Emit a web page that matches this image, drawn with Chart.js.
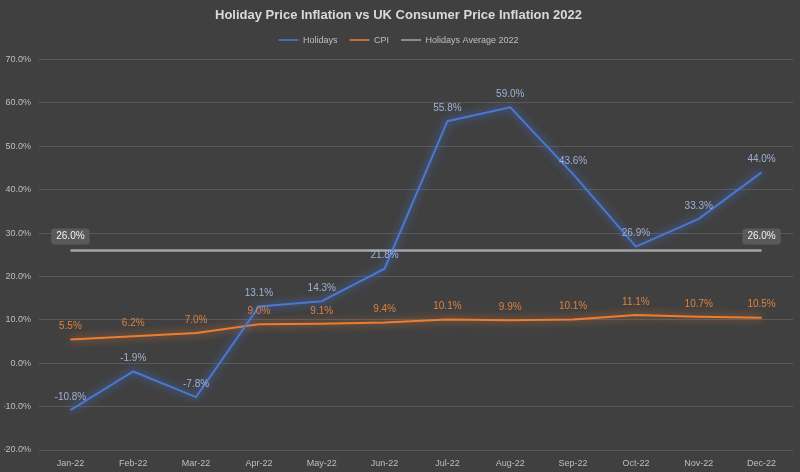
<!DOCTYPE html>
<html>
<head>
<meta charset="utf-8">
<script src="https://cdn.jsdelivr.net/npm/chart.js"></script>
<style>
  html, body { margin: 0; padding: 0; background: #404040; }
  #wrap { width: 800px; height: 472px; }
</style>
</head>
<body>
<div id="wrap"><canvas id="priceChart" width="800" height="472"></canvas></div>
<script>
const months = ['Jan-22', 'Feb-22', 'Mar-22', 'Apr-22', 'May-22', 'Jun-22', 'Jul-22', 'Aug-22', 'Sep-22', 'Oct-22', 'Nov-22', 'Dec-22'];
const holidays = [-10.8, -1.9, -7.8, 13.1, 14.3, 21.8, 55.8, 59.0, 43.6, 26.9, 33.3, 44.0];
const cpi = [5.5, 6.2, 7.0, 9.0, 9.1, 9.4, 10.1, 9.9, 10.1, 11.1, 10.7, 10.5];
const holidaysAverage = [26.0, 26.0, 26.0, 26.0, 26.0, 26.0, 26.0, 26.0, 26.0, 26.0, 26.0, 26.0];

const fontFamily = "'Liberation Sans', Arial, sans-serif";

// a bit more room under the legend
const legendGap = {
  id: 'legendGap',
  beforeInit(chart) {
    const origFit = chart.legend.fit;
    chart.legend.fit = function () {
      origFit.bind(chart.legend)();
      this.height += 5;
    };
  }
};

// glow round the lines
const glowPlugin = {
  id: 'glow',
  beforeDatasetDraw(chart, args) {
    const ds = chart.data.datasets[args.index];
    const ctx = chart.ctx;
    ctx.save();
    if (ds.glow) {
      ctx.shadowColor = ds.glow;
      ctx.shadowBlur = 9;
    }
  },
  afterDatasetDraw(chart) {
    chart.ctx.restore();
  }
};

// value labels
const labelPlugin = {
  id: 'valueLabels',
  afterDatasetsDraw(chart) {
    const ctx = chart.ctx;
    ctx.save();
    ctx.font = '10px ' + fontFamily;
    ctx.textAlign = 'center';
    ctx.textBaseline = 'middle';
    chart.data.datasets.forEach((ds, i) => {
      const meta = chart.getDatasetMeta(i);
      meta.data.forEach((pt, j) => {
        const text = ds.data[j].toFixed(1) + '%';
        if (ds.boxLabels) {
          if (j !== 0 && j !== ds.data.length - 1) return;
          const w = ctx.measureText(text).width + 10;
          const h = 16;
          const y = pt.y - 14;
          ctx.fillStyle = '#5a5a5a';
          ctx.beginPath();
          ctx.roundRect(pt.x - w / 2, y - h / 2, w, h, 3);
          ctx.fill();
          ctx.fillStyle = '#f2f2f2';
          ctx.fillText(text, pt.x, y);
        } else {
          ctx.fillStyle = ds.labelColor;
          ctx.fillText(text, pt.x, pt.y - 13);
        }
      });
    });
    ctx.restore();
  }
};

new Chart(document.getElementById('priceChart'), {
  type: 'line',
  data: {
    labels: months,
    datasets: [{
      label: 'Holidays',
      data: holidays,
      borderColor: '#4a78d0',
      backgroundColor: '#4a78d0',
      glow: 'rgba(70, 120, 230, 1)',
      labelColor: '#9fb1d6',
      borderWidth: 2
    }, {
      label: 'CPI',
      data: cpi,
      borderColor: '#ed7d31',
      backgroundColor: '#ed7d31',
      glow: 'rgba(237, 125, 49, 0.9)',
      labelColor: '#dc823e',
      borderWidth: 2
    }, {
      label: 'Holidays Average 2022',
      data: holidaysAverage,
      borderColor: '#a5a5a5',
      backgroundColor: '#a5a5a5',
      boxLabels: true,
      borderWidth: 2.5
    }]
  },
  options: {
    responsive: false,
    animation: false,
    elements: {
      point: { radius: 0, hoverRadius: 0 },
      line: { tension: 0 }
    },
    layout: { padding: { left: 4, right: 7, top: 6, bottom: 2 } },
    plugins: {
      title: {
        display: true,
        text: 'Holiday Price Inflation vs UK Consumer Price Inflation 2022',
        color: '#d9d9d9',
        font: { family: fontFamily, size: 13, weight: 'bold' },
        padding: { top: 2, bottom: 0 }
      },
      legend: {
        labels: {
          color: '#bfbfbf',
          font: { family: fontFamily, size: 9 },
          boxWidth: 20,
          boxHeight: 0,
          padding: 12,
          generateLabels(chart) {
            return chart.data.datasets.map((ds, i) => ({
              text: ds.label,
              fillStyle: ds.borderColor,
              strokeStyle: ds.borderColor,
              lineWidth: 1.5,
              fontColor: '#bfbfbf',
              datasetIndex: i
            }));
          }
        }
      },
      tooltip: { enabled: false }
    },
    scales: {
      x: {
        offset: true,
        grid: { display: false, drawTicks: false },
        border: { display: false },
        ticks: { color: '#bfbfbf', font: { family: fontFamily, size: 9 }, maxRotation: 0, padding: 8 },
        afterFit(scale) { scale.height = 20; }
      },
      y: {
        min: -20,
        max: 70,
        grid: { color: '#595959', lineWidth: 1, drawTicks: false },
        border: { display: false },
        ticks: {
          stepSize: 10,
          padding: 8,
          color: '#bfbfbf',
          font: { family: fontFamily, size: 9 },
          callback: v => v.toFixed(1) + '%'
        },
        afterFit(scale) { scale.width = 35; }
      }
    }
  },
  plugins: [legendGap, glowPlugin, labelPlugin]
});
</script>
</body>
</html>
